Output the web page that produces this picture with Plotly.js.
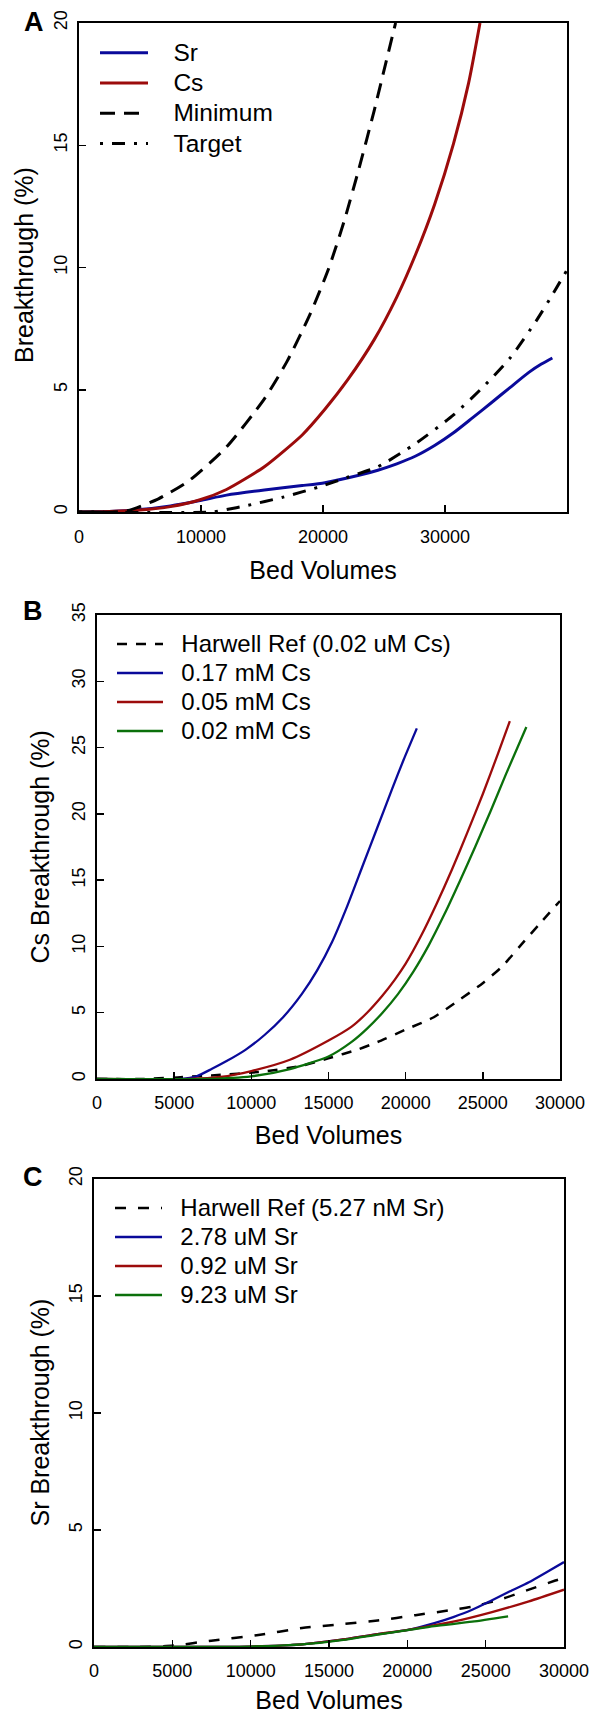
<!DOCTYPE html>
<html>
<head>
<meta charset="utf-8">
<script src="https://cdn.plot.ly/plotly-3.0.1.min.js"></script>
<style>
  html, body { margin: 0; padding: 0; background: #fff; }
  #chart { width: 592px; height: 1714px; }
</style>
</head>
<body>
<div id="chart"></div>
<script>
// ---------------- Panel A data ----------------
const aSrX  = [0, 2500, 5000, 7500, 9922, 12093, 15194, 18295, 20155, 22946, 24496, 26047, 27597, 29147, 30698, 32248, 33798, 35349, 36899, 37900, 38800];
const aSrY  = [0, 0.02, 0.1, 0.25, 0.47, 0.69, 0.9, 1.08, 1.2, 1.5, 1.71, 1.97, 2.29, 2.72, 3.24, 3.85, 4.47, 5.1, 5.72, 6.05, 6.3];
const aCsX  = [0, 2500, 5000, 7500, 9922, 12093, 15194, 18295, 20155, 22016, 24186, 26047, 27597, 29147, 30698, 31938, 32868];
const aCsY  = [0, 0.02, 0.08, 0.22, 0.5, 0.92, 1.85, 3.15, 4.2, 5.4, 7.04, 8.79, 10.54, 12.58, 15.07, 17.55, 20];
const aMinX = [0, 3000, 4031, 6512, 8992, 12093, 15194, 17054, 18915, 20465, 21705, 22946, 24186, 25116, 25950];
const aMinY = [0, 0, 0.06, 0.54, 1.27, 2.66, 4.63, 6.16, 8.06, 9.96, 11.85, 14.04, 16.4, 18.3, 20];
const aTgtX = [0, 10853, 12093, 13643, 16744, 19845, 22016, 24496, 27597, 30698, 33178, 35349, 37519, 38760, 40000];
const aTgtY = [0, 0, 0.1, 0.25, 0.61, 1.05, 1.42, 1.85, 2.8, 3.97, 5.14, 6.31, 7.85, 8.85, 9.9];
const aLabels = ['Sr', 'Cs', 'Minimum', 'Target'];
const aXTicks = [0, 10000, 20000, 30000, 40000];
const aYTicks = [0, 5, 10, 15, 20];

// ---------------- Panel B data ----------------
const bRefX  = [0, 3000, 7420, 10837, 13278, 14986, 16939, 18159, 19990, 21821, 23529, 24993, 26214, 27434, 28654, 30000];
const bRefY  = [0, 0, 0.27, 0.57, 1.0, 1.56, 2.24, 2.78, 3.72, 4.66, 6.01, 7.23, 8.44, 10.06, 11.67, 13.43];
const b017X  = [0, 5500, 6444, 7420, 8396, 9617, 10837, 12058, 13278, 14254, 15230, 16207, 17183, 18159, 19136, 19868, 20723];
const b017Y  = [0, 0, 0.2, 0.75, 1.35, 2.2, 3.3, 4.66, 6.42, 8.17, 10.33, 13.02, 15.99, 18.95, 21.92, 24.08, 26.45];
const b005X  = [0, 6000, 8000, 10000, 12500, 15000, 16500, 17500, 18500, 19300, 20000, 21000, 22000, 23000, 24000, 25000, 26000, 26750];
const b005Y  = [0, 0, 0.15, 0.6, 1.45, 2.9, 3.95, 5.0, 6.3, 7.5, 8.7, 10.8, 13.2, 15.8, 18.6, 21.5, 24.6, 27.0];
const b002X  = [0, 7000, 10000, 12500, 15000, 16500, 17500, 18500, 19500, 20500, 21500, 22500, 23500, 24500, 25500, 26500, 27820];
const b002Y  = [0, 0, 0.2, 0.75, 1.7, 2.8, 3.8, 5.0, 6.4, 8.1, 10.1, 12.4, 14.9, 17.5, 20.2, 23.0, 26.55];
const bLabels = ['Harwell Ref (0.02 uM Cs)', '0.17 mM Cs', '0.05 mM Cs', '0.02 mM Cs'];
const bXTicks = [0, 5000, 10000, 15000, 20000, 25000, 30000];
const bYTicks = [0, 5, 10, 15, 20, 25, 30, 35];

// ---------------- Panel C data ----------------
const cRefX  = [0, 2896, 5069, 7483, 10379, 13276, 15690, 18103, 20517, 22931, 24138, 26069, 27759, 29448, 30000];
const cRefY  = [0, 0, 0.06, 0.27, 0.5, 0.81, 0.97, 1.13, 1.36, 1.59, 1.72, 2.06, 2.45, 2.84, 2.95];
const c278X  = [0, 10000, 13276, 15690, 18103, 20034, 21724, 22931, 24138, 25345, 26552, 27759, 28966, 30000];
const c278Y  = [0, 0.02, 0.11, 0.3, 0.55, 0.73, 1.02, 1.28, 1.59, 1.98, 2.38, 2.77, 3.23, 3.63];
const c092X  = [0, 10000, 13276, 15690, 18103, 20034, 22931, 25345, 27759, 30000];
const c092Y  = [0, 0.02, 0.11, 0.3, 0.55, 0.73, 1.08, 1.48, 1.95, 2.45];
const c923X  = [0, 10000, 13276, 15690, 18103, 20034, 21724, 24138, 26431];
const c923Y  = [0, 0.02, 0.11, 0.28, 0.53, 0.72, 0.89, 1.08, 1.31];
const cLabels = ['Harwell Ref (5.27 nM Sr)', '2.78 uM Sr', '0.92 uM Sr', '9.23 uM Sr'];
const cXTicks = [0, 5000, 10000, 15000, 20000, 25000, 30000];
const cYTicks = [0, 5, 10, 15, 20];

const panelLetters = ['A', 'B', 'C'];
const xTitle = 'Bed Volumes';
const yTitles = ['Breakthrough (%)', 'Cs Breakthrough (%)', 'Sr Breakthrough (%)'];

// ---------------- styling ----------------
const FONT = 'Liberation Sans, Arial, Helvetica, sans-serif';
const BLUE = '#0a0a9a', RED = '#9c0b0b', GREEN = '#0b700b', BLACK = '#000000';
const W = 592, H = 1714;
const px = v => v / W;
const py = v => 1 - v / H;

function label(t, size, pad) {
  return '<span style="font-size:' + size + 'px">' + '\u00a0'.repeat(pad) + t + '</span>';
}
function line(x, y, name, color, width, dash, xa, ya, leg) {
  return {
    type: 'scatter', mode: 'lines', x: x, y: y, name: name,
    xaxis: xa, yaxis: ya, legend: leg, hoverinfo: 'skip',
    line: { color: color, width: width, dash: dash, shape: 'spline', smoothing: 0.6 },
    cliponaxis: true
  };
}

const traces = [
  line(aSrX,  aSrY,  label(aLabels[0], 24.5, 3), BLUE,  3, 'solid', 'x', 'y', 'legend'),
  line(aCsX,  aCsY,  label(aLabels[1], 24.5, 3), RED,   3, 'solid', 'x', 'y', 'legend'),
  line(aMinX, aMinY, label(aLabels[2], 24.5, 3), BLACK, 3, '15px,9px', 'x', 'y', 'legend'),
  line(aTgtX, aTgtY, label(aLabels[3], 24.5, 3), BLACK, 3, '3px,9px,13px,9px', 'x', 'y', 'legend'),

  line(bRefX, bRefY, label(bLabels[0], 24, 2), BLACK, 2.5, '10px,9px', 'x2', 'y2', 'legend2'),
  line(b017X, b017Y, label(bLabels[1], 24, 2), BLUE,  2.3, 'solid', 'x2', 'y2', 'legend2'),
  line(b005X, b005Y, label(bLabels[2], 24, 2), RED,   2.3, 'solid', 'x2', 'y2', 'legend2'),
  line(b002X, b002Y, label(bLabels[3], 24, 2), GREEN, 2.3, 'solid', 'x2', 'y2', 'legend2'),

  line(cRefX, cRefY, label(cLabels[0], 24, 2), BLACK, 2.5, '11px,12px', 'x3', 'y3', 'legend3'),
  line(c278X, c278Y, label(cLabels[1], 24, 2), BLUE,  2.3, 'solid', 'x3', 'y3', 'legend3'),
  line(c092X, c092Y, label(cLabels[2], 24, 2), RED,   2.3, 'solid', 'x3', 'y3', 'legend3'),
  line(c923X, c923Y, label(cLabels[3], 24, 2), GREEN, 2.3, 'solid', 'x3', 'y3', 'legend3')
];

function xAxis(domain, range, ticks, anchor, lw, standoff) {
  return {
    domain: domain, range: range, anchor: anchor, fixedrange: true,
    showline: true, mirror: true, linecolor: '#000', linewidth: lw,
    ticks: 'inside', ticklen: 7, tickwidth: 1.5, tickcolor: '#000',
    showgrid: false, zeroline: false,
    tickmode: 'array', tickvals: ticks, ticktext: ticks.map(String),
    tickfont: { family: FONT, size: 18, color: '#000' },
    ticklabelstandoff: 7,
    title: { text: xTitle, font: { family: FONT, size: 25, color: '#000' }, standoff: standoff }
  };
}
function yAxis(domain, range, ticks, anchor, lw) {
  return {
    domain: domain, range: range, anchor: anchor, fixedrange: true,
    showline: true, mirror: true, linecolor: '#000', linewidth: lw,
    ticks: 'inside', ticklen: 7, tickwidth: 1.5, tickcolor: '#000',
    showgrid: false, zeroline: false,
    tickmode: 'array', tickvals: ticks, ticktext: ticks.map(String),
    tickangle: -90,
    ticklabelstandoff: 3,
    tickfont: { family: FONT, size: 18, color: '#000' }
  };
}
function legendAt(left, top, fontSize, itemW) {
  return {
    x: px(left), y: py(top), xanchor: 'left', yanchor: 'top',
    xref: 'paper', yref: 'paper',
    bgcolor: 'rgba(0,0,0,0)', borderwidth: 0,
    font: { family: FONT, size: fontSize, color: '#000' },
    itemwidth: itemW, tracegroupgap: 0, orientation: 'v'
  };
}

const letterAnn = [[34, 22], [33, 611], [33, 1177]].map((p, i) => ({
  text: '<b>' + panelLetters[i] + '</b>', x: px(p[0]), y: py(p[1]),
  xref: 'paper', yref: 'paper', xanchor: 'center', yanchor: 'middle', showarrow: false,
  font: { family: FONT, size: 27, color: '#000' }
}));
const yTitleAnn = [[24, 265], [39.5, 847], [39.5, 1413]].map((p, i) => ({
  text: yTitles[i], x: px(p[0]), y: py(p[1]), textangle: -90,
  xref: 'paper', yref: 'paper', xanchor: 'center', yanchor: 'middle', showarrow: false,
  font: { family: FONT, size: 25, color: '#000' }
}));

const layout = {
  width: W, height: H,
  margin: { l: 0, r: 0, t: 0, b: 0, pad: 0 },
  paper_bgcolor: '#fff', plot_bgcolor: '#fff',
  showlegend: true,
  font: { family: FONT, color: '#000' },
  xaxis:  xAxis([px(79), px(567)], [0, 40000], aXTicks, 'y', 2, 16.1),
  yaxis:  yAxis([py(512), py(23)], [0, 20], aYTicks, 'x', 2),
  xaxis2: xAxis([px(97), px(560)], [0, 30000], bXTicks, 'y2', 1.6, 13.8),
  yaxis2: yAxis([py(1079), py(615)], [0, 35], bYTicks, 'x2', 1.6),
  xaxis3: xAxis([px(94), px(564)], [0, 30000], cXTicks, 'y3', 1.6, 13.3),
  yaxis3: yAxis([py(1647), py(1179)], [0, 20], cYTicks, 'x3', 1.6),
  legend:  legendAt(95, 32.5, 21, 48),
  legend2: legendAt(112, 624.5, 20, 46),
  legend3: legendAt(110, 1188.5, 20, 47),
  annotations: letterAnn.concat(yTitleAnn)
};

Plotly.newPlot('chart', traces, layout, { staticPlot: true, displayModeBar: false });
</script>
</body>
</html>
